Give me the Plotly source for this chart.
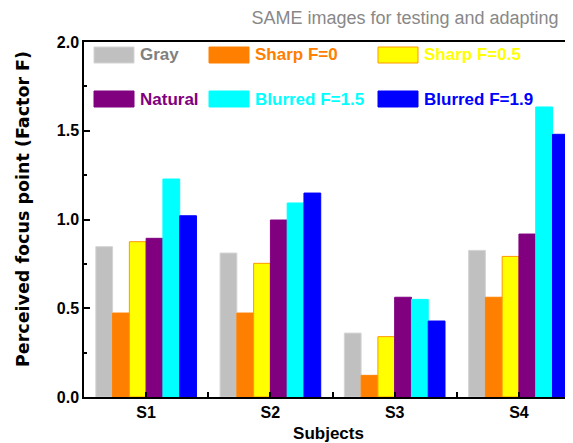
import plotly.graph_objects as go

subjects = ["S1", "S2", "S3", "S4"]
series_names = ["Gray", "Sharp F=0", "Sharp F=0.5", "Natural", "Blurred F=1.5", "Blurred F=1.9"]
gray = [0.847, 0.811, 0.360, 0.826]
sharp_f0 = [0.473, 0.473, 0.122, 0.562]
sharp_f05 = [0.875, 0.753, 0.340, 0.792]
natural = [0.894, 0.997, 0.562, 0.918]
blurred_f15 = [1.228, 1.093, 0.550, 1.634]
blurred_f19 = [1.021, 1.149, 0.428, 1.480]
y_ticks = [0.0, 0.5, 1.0, 1.5, 2.0]
y_tick_labels = ["0.0", "0.5", "1.0", "1.5", "2.0"]

all_values = [gray, sharp_f0, sharp_f05, natural, blurred_f15, blurred_f19]
fill_colors = ["#c0c0c0", "#ff8000", "#ffff00", "#800080", "#00ffff", "#0000ff"]
line_colors = ["#d4d4d4", "#ff8000", "#ff9900", "#800080", "#00ffff", "#0000ff"]
text_colors = ["#808080", "#ff8000", "#ffff00", "#800080", "#00ffff", "#0000ff"]

# the page body adds an 8px offset; size the figure so it ends at the window edge
OFF = 8
W, H = 573 - OFF, 443 - OFF
ML, MR, MT, MB = 84 - OFF, 0, 42 - OFF, 443 - 397
PW = W - ML - MR
PH = H - MT - MB

def px_x(px):
    return (px - OFF - ML) / PW

def px_y(py):
    return (H - MB - (py - OFF)) / PH

FONT = "Liberation Sans, Arial, sans-serif"

fig = go.Figure()
xpos = list(range(len(subjects)))
for name, vals, fc, lc in zip(series_names, all_values, fill_colors, line_colors):
    fig.add_trace(go.Bar(
        x=xpos, y=vals, name=name,
        marker=dict(color=fc, line=dict(color=lc, width=1)),
        showlegend=False,
    ))

# custom legend (large swatches, coloured text)
sw_x = [94, 209, 378]
sw_y = [47, 91]
sw_w, sw_h = 40, 16
for i, (name, fc, lc, tc) in enumerate(zip(series_names, fill_colors, line_colors, text_colors)):
    r, c = divmod(i, 3)
    x0 = sw_x[c]
    y0 = sw_y[r]
    fig.add_shape(type="rect", xref="paper", yref="paper",
                  x0=px_x(x0), x1=px_x(x0 + sw_w), y0=px_y(y0 + sw_h), y1=px_y(y0),
                  fillcolor=fc, line=dict(color=lc, width=1), layer="above")
    fig.add_annotation(xref="paper", yref="paper", x=px_x(x0 + sw_w + 4), y=px_y(y0 + sw_h / 2),
                       text=name, showarrow=False, xanchor="left", yanchor="middle",
                       font=dict(family=FONT, size=17, color=tc, weight="bold"))

fig.add_annotation(xref="paper", yref="paper", x=px_x(23), y=px_y(209),
                   text="Perceived focus point (Factor F)", textangle=-90, showarrow=False,
                   xanchor="center", yanchor="middle",
                   font=dict(family="DejaVu Sans, sans-serif", size=17.5, color="black", weight="bold"))

fig.update_layout(
    width=W, height=H,
    margin=dict(l=ML, r=MR, t=MT, b=MB),
    paper_bgcolor="white", plot_bgcolor="white",
    barmode="group", bargap=0.19, bargroupgap=0,
    title=dict(text="SAME images for testing and adapting", x=(405 - OFF) / W, xanchor="center",
               y=1 - (18 - OFF) / H, yanchor="middle",
               font=dict(family=FONT, size=18, color="#888888")),
    font=dict(family=FONT),
)
fig.update_xaxes(
    range=[-0.5, 3.435], tickvals=xpos, ticktext=subjects,
    showline=True, linecolor="black", linewidth=1.5, mirror=True,
    ticks="inside", ticklen=5, tickcolor="black", tickwidth=1.5,
    minor=dict(tickvals=[0.5, 1.5, 2.5], ticks="inside", ticklen=5, tickcolor="black"),
    showgrid=False, zeroline=False,
    tickfont=dict(family=FONT, size=16, color="black", weight="bold"),
    title=dict(text="Subjects", standoff=7,
               font=dict(family=FONT, size=17, color="black", weight="bold")),
)
fig.update_yaxes(
    range=[0, 2.0], tickvals=y_ticks, ticktext=y_tick_labels,
    showline=True, linecolor="black", linewidth=1.5,
    ticks="inside", ticklen=6, tickcolor="black", tickwidth=1.5,
    minor=dict(dtick=0.25, ticks="inside", ticklen=3, tickcolor="black"),
    showgrid=False, zeroline=False,
    tickfont=dict(family=FONT, size=16, color="black", weight="bold"),
)

fig.write_html("out.html")
